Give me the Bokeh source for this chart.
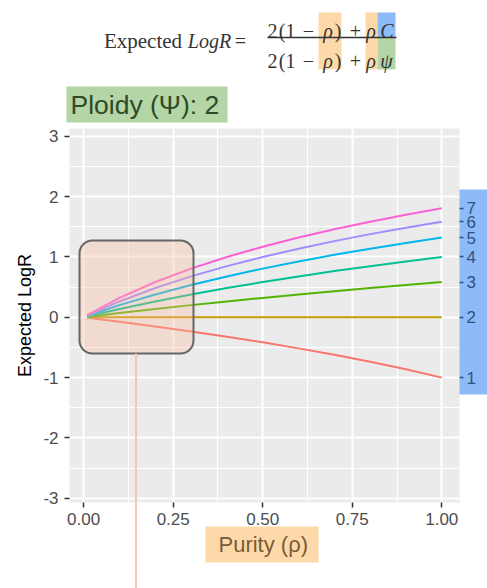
from bokeh.plotting import figure
from bokeh.models import (Range1d, LinearAxis, FixedTicker, BoxAnnotation, Label,
                          PrintfTickFormatter, GridBox)
from bokeh.embed import file_html
from bokeh.resources import INLINE

# ---- data ----
purity = [0.01, 0.1, 0.2, 0.3, 0.4, 0.5, 0.6, 0.7, 0.8, 0.9, 1.0]
copy_numbers = ["1", "2", "3", "4", "5", "6", "7"]
logr_c1 = [-0.007, -0.074, -0.152, -0.234, -0.322, -0.415, -0.515, -0.621, -0.737, -0.862, -1.0]
logr_c2 = [0.0, 0.0, 0.0, 0.0, 0.0, 0.0, 0.0, 0.0, 0.0, 0.0, 0.0]
logr_c3 = [0.007, 0.070, 0.138, 0.202, 0.263, 0.322, 0.379, 0.433, 0.485, 0.536, 0.585]
logr_c4 = [0.014, 0.138, 0.263, 0.379, 0.485, 0.585, 0.678, 0.766, 0.848, 0.926, 1.0]
logr_c5 = [0.021, 0.202, 0.379, 0.536, 0.678, 0.807, 0.926, 1.036, 1.138, 1.233, 1.322]
logr_c6 = [0.029, 0.263, 0.485, 0.678, 0.848, 1.0, 1.138, 1.263, 1.379, 1.485, 1.585]
logr_c7 = [0.036, 0.322, 0.585, 0.807, 1.0, 1.170, 1.322, 1.459, 1.585, 1.700, 1.807]
series = [logr_c1, logr_c2, logr_c3, logr_c4, logr_c5, logr_c6, logr_c7]
x_ticks = [0.0, 0.25, 0.5, 0.75, 1.0]
y_ticks = [-3, -2, -1, 0, 1, 2, 3]
ploidy = 2

colors = ["#F8766D", "#C49A00", "#53B400", "#00C094", "#00B6EB", "#A58AFF", "#FB61D7"]

W, H = 487, 588
# frame edges on the page (px)
FL, FR, FT, FB = 69, 459, 128, 502

# ---------------- main plot ----------------
p = figure(width=W, height=H, output_backend="svg", toolbar_location=None,
           x_range=Range1d(-0.0395, 1.0495), y_range=Range1d(-3.07, 3.13),
           min_border_left=FL, min_border_right=W - FR, min_border_top=FT,
           min_border_bottom=H - FB)
p.frame_align = False
p.background_fill_color = "#EBEBEB"
p.border_fill_alpha = 0
p.outline_line_color = None

for vals, col in zip(series, colors):
    p.line(purity, vals, line_color=col, line_width=2)

p.xaxis.ticker = FixedTicker(ticks=x_ticks, minor_ticks=[0.125, 0.375, 0.625, 0.875])
p.xaxis.formatter = PrintfTickFormatter(format="%.2f")
p.yaxis.ticker = FixedTicker(ticks=y_ticks, minor_ticks=[-2.5, -1.5, -0.5, 0.5, 1.5, 2.5])
p.yaxis.major_label_overrides = {t: str(t) for t in y_ticks}
for ax in (p.xaxis[0], p.yaxis[0]):
    ax.axis_line_color = None
    ax.major_tick_line_color = "#333333"
    ax.major_tick_line_width = 1.5
    ax.major_tick_out = 5
    ax.major_tick_in = 0
    ax.minor_tick_line_color = None
    ax.major_label_text_font = "Liberation Sans"
    ax.major_label_text_font_size = "17px"
    ax.major_label_text_color = "#4D4D4D"
p.xaxis.major_label_standoff = 5
p.yaxis.major_label_standoff = 6
p.yaxis.axis_label = "Expected LogR"
p.yaxis.axis_label_text_font = "Liberation Sans"
p.yaxis.axis_label_text_font_size = "18px"
p.yaxis.axis_label_text_font_style = "normal"
p.yaxis.axis_label_text_color = "black"
p.yaxis.axis_label_standoff = 5

for g in (p.xgrid[0], p.ygrid[0]):
    g.grid_line_color = "white"
    g.grid_line_width = 2
    g.minor_grid_line_color = "white"
    g.minor_grid_line_width = 1

# right axis: copy numbers at the line ends
end_vals = [s[-1] for s in series]
rax = LinearAxis(ticker=FixedTicker(ticks=end_vals),
                 major_label_overrides={v: c for v, c in zip(end_vals, copy_numbers)})
rax.axis_line_color = None
rax.major_tick_line_color = "#33527D"
rax.major_tick_line_width = 1.5
rax.major_tick_out = 4
rax.major_tick_in = 0
rax.minor_tick_line_color = None
rax.major_label_standoff = 3
rax.major_label_text_font = "Liberation Sans"
rax.major_label_text_font_size = "17px"
rax.major_label_text_color = "#33527D"
p.add_layout(rax, "right")


def frame_box(l, r, t, b, color, **kw):
    p.add_layout(BoxAnnotation(left=l - FL, right=r - FL, top=FB - t, bottom=FB - b,
                               left_units="screen", right_units="screen",
                               top_units="screen", bottom_units="screen",
                               fill_color=color, level="annotation", **kw))


frame_box(79, 193, 240, 353, "#FDBA9A", fill_alpha=0.35, line_color="#666666",
          line_alpha=1.0, line_width=2, border_radius=13)
frame_box(134.5, 136.5, 353, 510, "#F9C4AE", fill_alpha=1.0, line_color=None)

# ---------------- backdrop with page decorations ----------------
bg = figure(width=W, height=H, output_backend="svg", toolbar_location=None,
            x_range=Range1d(0, W), y_range=Range1d(H, 0),
            x_axis_location=None, y_axis_location=None,
            min_border=0, min_border_left=0, min_border_right=0,
            min_border_top=0, min_border_bottom=0)
bg.frame_align = False
bg.grid.visible = False
bg.outline_line_color = None
bg.background_fill_color = "white"
bg.border_fill_color = "white"


def box(l, r, t, b, color, alpha=1.0):
    bg.add_layout(BoxAnnotation(left=l, right=r, top=t, bottom=b, fill_color=color,
                                fill_alpha=alpha, line_color=None, level="underlay"))


def label(text, x, y, size, color, font="Liberation Sans", style="normal",
          align="left", baseline="middle"):
    bg.add_layout(Label(x=x, y=y, text=text, text_font=font, text_font_size=f"{size}px",
                        text_font_style=style, text_color=color, text_align=align,
                        text_baseline=baseline))


box(458, 490, 189, 394, "#8DBAF8")
box(134.5, 136.5, 502, 590, "#F9C4AE")

box(66, 227, 86, 122, "#B4D5A6")
label(f"Ploidy (\u03a8): {ploidy}", 70, 104, 26.5, "#2E4A26")

box(205, 318, 526, 562, "#FDD9A9")
label("Purity (\u03c1)", 218, 544, 22, "#7A5B36")

box(318, 341, 12, 69, "#FDD9A9")
box(365, 377, 12, 69, "#FDD9A9")
box(377, 395, 12, 37, "#8DBAF8")
box(377, 395, 37, 69, "#B4D5A6")
bg.add_layout(BoxAnnotation(left=267, right=396, top=36.3, bottom=37.7,
                            fill_color="#333333", fill_alpha=1.0, line_color=None))

F = "Liberation Serif"
TC = "#333333"
kw = dict(font=F, baseline="alphabetic", align="center")
label("Expected", 142.5, 40, 21, TC, **kw)
label("LogR", 209, 40, 20, TC, style="italic", **kw)
label("=", 240, 40, 20, TC, **kw)
for base in (30, 60):
    label("2", 272, base, 20, TC, **kw)
    label("(", 281.5, base, 20, TC, **kw)
    label("1", 290, base, 20, TC, **kw)
    label("\u2212", 308, base, 20, TC, **kw)
    label("\u03c1", 327.5, base, 20, TC, style="italic", **kw)
    label(")", 337.5, base, 20, TC, **kw)
    label("+", 355, base, 20, TC, **kw)
    label("\u03c1", 370.5, base, 20, TC, style="italic", **kw)
label("C", 386.5, 30, 20, TC, style="italic", **kw)
label("\u03c8", 386, 60, 20, TC, style="italic", **kw)

root = GridBox(children=[(bg, 0, 0), (p, 0, 0)])

open("out.html", "w").write(file_html(root, INLINE))
